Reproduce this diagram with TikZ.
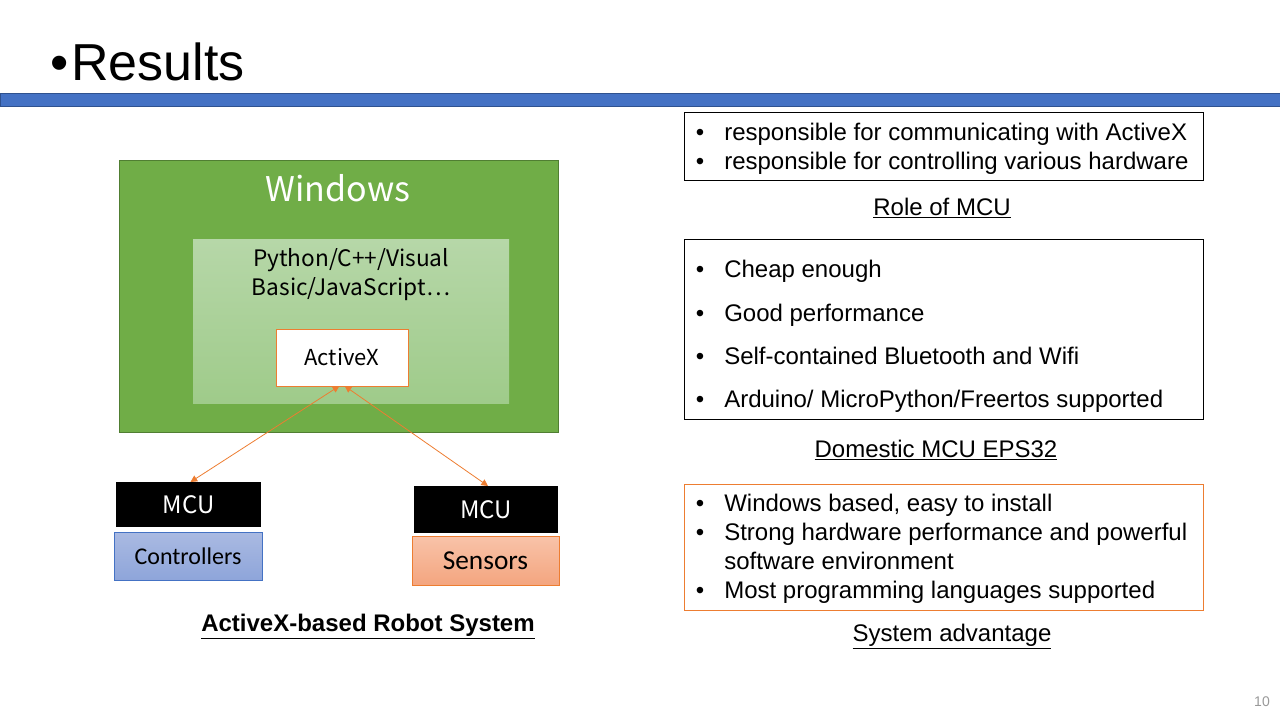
\documentclass[tikz,border=0pt]{standalone}
\usepackage{fontspec}
\setmainfont{Liberation Sans}
\newfontfamily\dxfont{Noto Sans CJK SC}
\newfontfamily\calfont{Carlito}
\usetikzlibrary{fit,arrows.meta}
\definecolor{barblue}{HTML}{4472C4}
\definecolor{barborder}{HTML}{2F528F}
\definecolor{wingreen}{HTML}{70AD47}
\definecolor{winborder}{HTML}{507E32}
\definecolor{innertop}{HTML}{B6D7A8}
\definecolor{innerbot}{HTML}{9FCB8A}
\definecolor{xorange}{HTML}{ED7D31}
\definecolor{ctltop}{HTML}{AABAE2}
\definecolor{ctlbot}{HTML}{8EA5DA}
\definecolor{sentop}{HTML}{F8C3A9}
\definecolor{senbot}{HTML}{F4A57F}
\tikzset{
  fitbox/.style={inner sep=0pt, outer sep=0pt},
  mcubox/.style={fitbox, fill=black},
  mcutext/.style={text=white, inner sep=0pt, font=\dxfont\fontsize{18}{21}\selectfont},
  listbox/.style={fitbox, draw=black, line width=0.75pt},
  bul/.style={anchor=base, font=\fontsize{18}{21}\selectfont, inner sep=0pt},
  line/.style={anchor=base west, font=\fontsize{18}{21}\selectfont, inner sep=0pt},
  caption/.style={anchor=base, font=\fontsize{18}{21}\selectfont, inner sep=0pt},
  link/.style={draw=xorange, line width=0.6pt, {Triangle[width=5pt,length=5pt]}-{Triangle[width=5pt,length=5pt]}},
}
\begin{document}
\begin{tikzpicture}[x=0.75pt,y=-0.75pt]
\useasboundingbox (0,0) rectangle (1280,720);
% title
\node[anchor=base, inner sep=0pt, font=\fontsize{39}{44}\selectfont] (tbul) at (60,81) {\textbullet};
\node[anchor=base west, inner sep=0pt, font=\fontsize{39}{44}\selectfont] (title) at (71,81) {Results};
% bar
\node[fitbox, fit={(0,94)(1280,107)}, fill=barblue, draw=barborder, line width=0.75pt] (bar) {};
% Windows
\node[fitbox, fit={(119,161)(558,432)}, fill=wingreen, draw=winborder, line width=0.75pt] (win) {};
\node[anchor=base, inner sep=0pt, text=white, font=\dxfont\fontsize{25.5}{30}\selectfont] (wintitle) at (338,202) {Windows};
\node[fitbox, fit={(193,240)(509,403)}, top color=innertop, bottom color=innerbot] (inner) {};
\node[anchor=base, inner sep=0pt, font=\dxfont\fontsize{17}{20}\selectfont] (lang1) at (351,267) {Python/C++/Visual};
\node[anchor=base, inner sep=0pt, font=\dxfont\fontsize{17}{20}\selectfont] (lang2) at (351,295) {Basic/JavaScript⋯};
\node[fitbox, fit={(276,329)(408,386)}, fill=white, draw=xorange, line width=0.75pt] (activex) {};
\node[inner sep=0pt, font=\dxfont\fontsize{16.5}{19}\selectfont] (activext) at (activex.center) {ActiveX};
% MCUs
\node[mcubox, fit={(116,482)(261,527)}] (mcu1) {};
\node[mcutext] (mcu1t) at (mcu1.center) {MCU};
\node[mcubox, fit={(414,486)(558,533)}] (mcu2) {};
\node[mcutext] (mcu2t) at (mcu2.center) {MCU};
\node[fitbox, fit={(114,532)(262,580)}, top color=ctltop, bottom color=ctlbot, draw=barblue, line width=0.75pt] (ctl) {};
\node[inner sep=0pt, font=\calfont\fontsize{18}{21}\selectfont] (ctlt) at (ctl.center) {Controllers};
\node[fitbox, fit={(412,536)(559,585)}, top color=sentop, bottom color=senbot, draw=xorange, line width=0.75pt] (sen) {};
\node[inner sep=0pt, font=\calfont\fontsize{20.5}{24}\selectfont] (sent) at (sen.center) {Sensors};
\coordinate (axl) at ([xshift=-2pt]activex.south);
\coordinate (axr) at ([xshift=2pt]activex.south);
\draw[link] (axl) -- ([xshift=1.5pt]mcu1.north);
\draw[link] (axr) -- ([xshift=1.5pt]mcu2.north);
\node[caption, font=\bfseries\fontsize{18}{21}\selectfont] (cap1) at (368,631) {\underline{ActiveX-based Robot System}};
% Role of MCU
\node[listbox, fit={(684,113)(1203,181)}] (role) {};
\node[bul] (rb1) at (700,141) {\textbullet};
\node[line] (rl1) at (724,141) {responsible for communicating with ActiveX};
\node[bul] (rb2) at (700,170) {\textbullet};
\node[line] (rl2) at (724,170) {responsible for controlling various hardware};
\node[caption] (cap2) at (942,215) {\underline{Role of MCU}};
% Domestic MCU
\node[listbox, fit={(684,240)(1203,419)}] (dom) {};
\node[bul] (db1) at (700,277) {\textbullet};
\node[line] (dl1) at (724,277) {Cheap enough};
\node[bul] (db2) at (700,321) {\textbullet};
\node[line] (dl2) at (724,321) {Good performance};
\node[bul] (db3) at (700,364) {\textbullet};
\node[line] (dl3) at (724,364) {Self-contained Bluetooth and Wifi};
\node[bul] (db4) at (700,407) {\textbullet};
\node[line] (dl4) at (724,407) {Arduino/ MicroPython/Freertos supported};
\node[caption] (cap3) at (936,457) {\underline{Domestic MCU EPS32}};
% System advantage
\node[listbox, fit={(684,484)(1203,610)}, draw=xorange] (sys) {};
\node[bul] (sb1) at (700,511) {\textbullet};
\node[line] (sl1) at (724,511) {Windows based, easy to install};
\node[bul] (sb2) at (700,540) {\textbullet};
\node[line] (sl2) at (724,540) {Strong hardware performance and powerful};
\node[line] (sl3) at (724,569) {software environment};
\node[bul] (sb3) at (700,598) {\textbullet};
\node[line] (sl4) at (724,598) {Most programming languages supported};
\node[caption] (cap4) at (952,641) {\underline{System advantage}};
% page number
\node[anchor=base, inner sep=0pt, text=gray!80, font=\fontsize{10.5}{12}\selectfont] (pnum) at (1262,706) {10};
\end{tikzpicture}
\end{document}
